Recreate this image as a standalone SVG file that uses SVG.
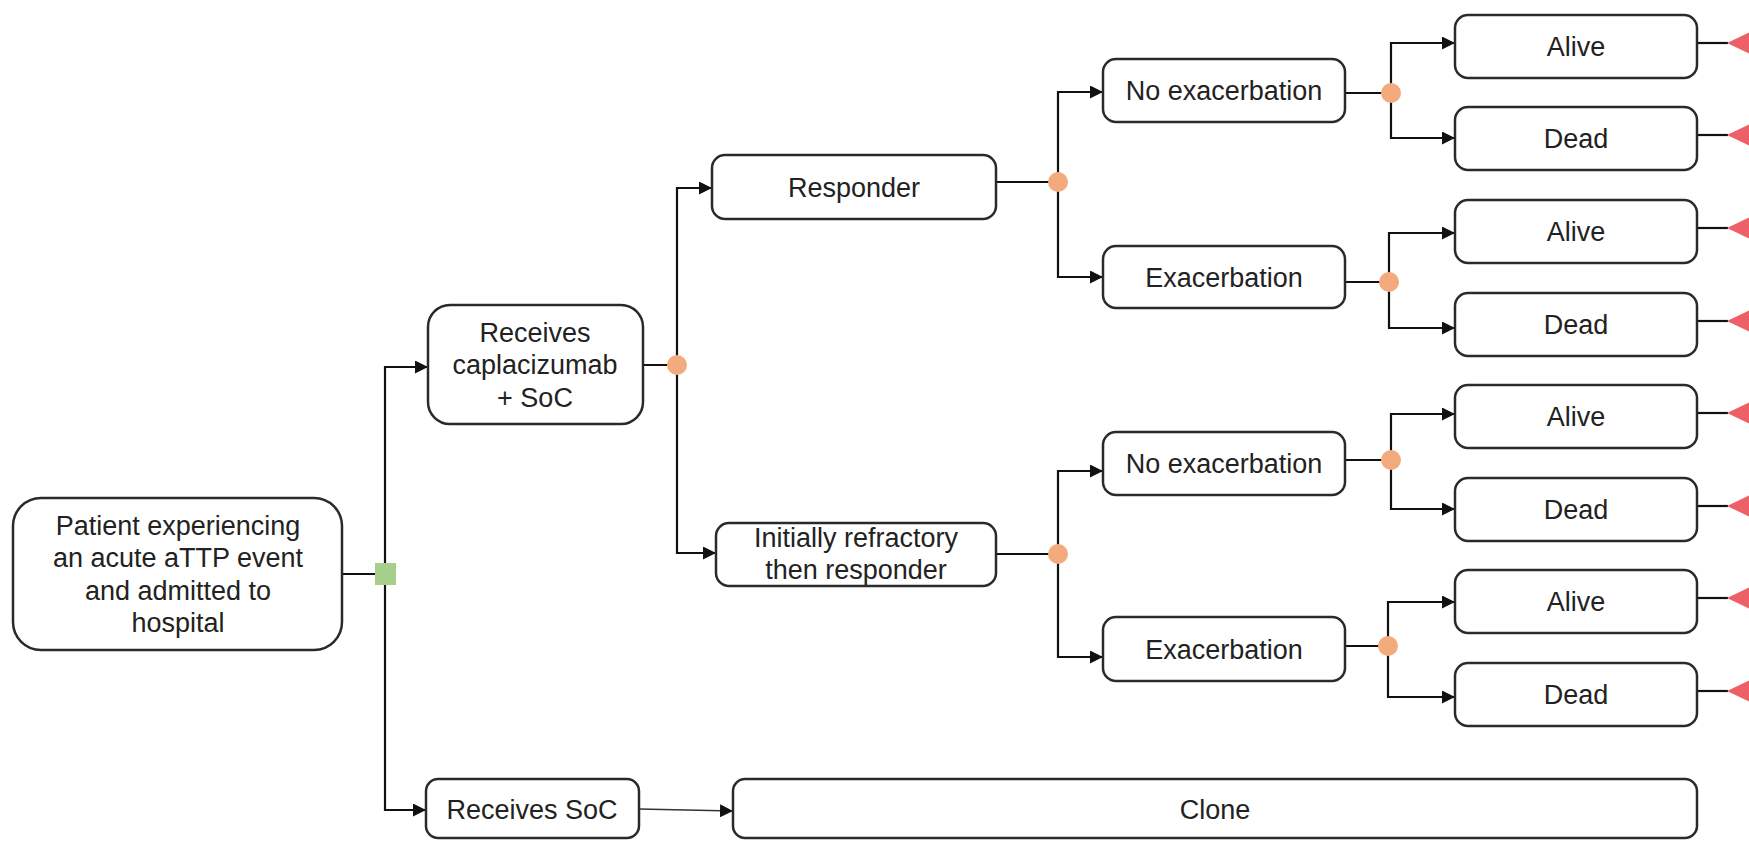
<svg xmlns="http://www.w3.org/2000/svg" width="1749" height="841" viewBox="0 0 1749 841">
<defs>
<marker id="arr" markerUnits="userSpaceOnUse" markerWidth="14" markerHeight="14" refX="13" refY="6.5" orient="auto">
<path d="M0,0 L13,6.5 L0,13 z" fill="#111"/>
</marker>
<style>
.box{fill:#fff;stroke:#2a2a2a;stroke-width:2.5}
.t{font-family:"Liberation Sans",Arial,sans-serif;font-size:27px;fill:#222;text-anchor:middle}
.c{fill:none;stroke:#111;stroke-width:2.2}
.ca{fill:none;stroke:#111;stroke-width:2.2;marker-end:url(#arr)}
.thin{fill:none;stroke:#333;stroke-width:1.3;marker-end:url(#arr)}
.chance{fill:#F3AA7C}
.dec{fill:#A6CF8B}
.term{fill:#EE6068}
</style>
</defs>

<g id="connectors">
<!-- root -->
<path class="c" d="M342,574 H385"/>
<path class="ca" d="M385,574 V367 H428"/>
<path class="ca" d="M385,574 V810 H426"/>
<!-- caplacizumab -->
<path class="c" d="M643,365 H677"/>
<path class="ca" d="M677,365 V188 H712"/>
<path class="ca" d="M677,365 V553 H716"/>
<!-- responder -->
<path class="c" d="M996,182 H1058"/>
<path class="ca" d="M1058,182 V92 H1103"/>
<path class="ca" d="M1058,182 V277 H1103"/>
<!-- initially refractory -->
<path class="c" d="M996,554 H1058"/>
<path class="ca" d="M1058,554 V471 H1103"/>
<path class="ca" d="M1058,554 V657 H1103"/>
<!-- mid level -->
<path class="c" d="M1345,93 H1391"/>
<path class="ca" d="M1391,93 V43 H1455"/>
<path class="ca" d="M1391,93 V138 H1455"/>
<path class="c" d="M1345,282 H1389"/>
<path class="ca" d="M1389,282 V233 H1455"/>
<path class="ca" d="M1389,282 V328 H1455"/>
<path class="c" d="M1345,460 H1391"/>
<path class="ca" d="M1391,460 V414 H1455"/>
<path class="ca" d="M1391,460 V509 H1455"/>
<path class="c" d="M1345,646 H1388"/>
<path class="ca" d="M1388,646 V602 H1455"/>
<path class="ca" d="M1388,646 V697 H1455"/>
<!-- terminal lines -->
<path class="c" d="M1697,43 H1728"/>
<path class="c" d="M1697,135 H1728"/>
<path class="c" d="M1697,228 H1728"/>
<path class="c" d="M1697,321 H1728"/>
<path class="c" d="M1697,413 H1728"/>
<path class="c" d="M1697,506 H1728"/>
<path class="c" d="M1697,598 H1728"/>
<path class="c" d="M1697,691 H1728"/>
<!-- SoC to clone -->
<path class="thin" d="M639,809 L733,811"/>
</g>

<g id="markers-nodes">
<rect id="decision" class="dec" x="375" y="563" width="21" height="22"/>
<circle id="chance1" class="chance" cx="677" cy="365" r="10"/>
<circle id="chance2" class="chance" cx="1058" cy="182" r="10"/>
<circle id="chance3" class="chance" cx="1058" cy="554" r="10"/>
<circle id="chance4" class="chance" cx="1391" cy="93" r="10"/>
<circle id="chance5" class="chance" cx="1389" cy="282" r="10"/>
<circle id="chance6" class="chance" cx="1391" cy="460" r="10"/>
<circle id="chance7" class="chance" cx="1388" cy="646" r="10"/>
<path id="term1" class="term" d="M1727,43 L1750,32 L1750,54 z"/>
<path id="term2" class="term" d="M1727,135 L1750,124 L1750,146 z"/>
<path id="term3" class="term" d="M1727,228 L1750,217 L1750,239 z"/>
<path id="term4" class="term" d="M1727,321 L1750,310 L1750,332 z"/>
<path id="term5" class="term" d="M1727,413 L1750,402 L1750,424 z"/>
<path id="term6" class="term" d="M1727,506 L1750,495 L1750,517 z"/>
<path id="term7" class="term" d="M1727,598 L1750,587 L1750,609 z"/>
<path id="term8" class="term" d="M1727,691 L1750,680 L1750,702 z"/>
</g>

<g id="patient">
<rect class="box" x="13" y="498" width="329" height="152" rx="28"/>
<text class="t" x="178" y="535">Patient experiencing</text>
<text class="t" x="178" y="567">an acute aTTP event</text>
<text class="t" x="178" y="600">and admitted to</text>
<text class="t" x="178" y="632">hospital</text>
</g>

<g id="caplacizumab">
<rect class="box" x="428" y="305" width="215" height="119" rx="22"/>
<text class="t" x="535" y="342">Receives</text>
<text class="t" x="535" y="374">caplacizumab</text>
<text class="t" x="535" y="407">+ SoC</text>
</g>

<g id="soc">
<rect class="box" x="426" y="779" width="213" height="59" rx="12"/>
<text class="t" x="532" y="819">Receives SoC</text>
</g>

<g id="clone">
<rect class="box" x="733" y="779" width="964" height="59" rx="12"/>
<text class="t" x="1215" y="819">Clone</text>
</g>

<g id="responder">
<rect class="box" x="712" y="155" width="284" height="64" rx="13"/>
<text class="t" x="854" y="197">Responder</text>
</g>

<g id="refractory">
<rect class="box" x="716" y="523" width="280" height="63" rx="13"/>
<text class="t" x="856" y="547">Initially refractory</text>
<text class="t" x="856" y="579">then responder</text>
</g>

<g id="noexac1">
<rect class="box" x="1103" y="59" width="242" height="63" rx="13"/>
<text class="t" x="1224" y="100">No exacerbation</text>
</g>
<g id="exac1">
<rect class="box" x="1103" y="246" width="242" height="62" rx="13"/>
<text class="t" x="1224" y="287">Exacerbation</text>
</g>
<g id="noexac2">
<rect class="box" x="1103" y="432" width="242" height="63" rx="13"/>
<text class="t" x="1224" y="473">No exacerbation</text>
</g>
<g id="exac2">
<rect class="box" x="1103" y="617" width="242" height="64" rx="13"/>
<text class="t" x="1224" y="659">Exacerbation</text>
</g>

<g id="alive1"><rect class="box" x="1455" y="15" width="242" height="63" rx="13"/><text class="t" x="1576" y="56">Alive</text></g>
<g id="dead1"><rect class="box" x="1455" y="107" width="242" height="63" rx="13"/><text class="t" x="1576" y="148">Dead</text></g>
<g id="alive2"><rect class="box" x="1455" y="200" width="242" height="63" rx="13"/><text class="t" x="1576" y="241">Alive</text></g>
<g id="dead2"><rect class="box" x="1455" y="293" width="242" height="63" rx="13"/><text class="t" x="1576" y="334">Dead</text></g>
<g id="alive3"><rect class="box" x="1455" y="385" width="242" height="63" rx="13"/><text class="t" x="1576" y="426">Alive</text></g>
<g id="dead3"><rect class="box" x="1455" y="478" width="242" height="63" rx="13"/><text class="t" x="1576" y="519">Dead</text></g>
<g id="alive4"><rect class="box" x="1455" y="570" width="242" height="63" rx="13"/><text class="t" x="1576" y="611">Alive</text></g>
<g id="dead4"><rect class="box" x="1455" y="663" width="242" height="63" rx="13"/><text class="t" x="1576" y="704">Dead</text></g>
</svg>
